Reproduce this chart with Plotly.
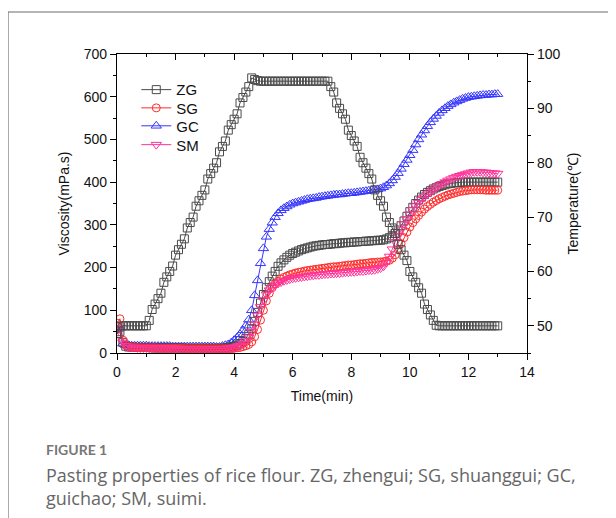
import plotly.graph_objects as go

# Time grid (min), sampled every 0.1 min
TIME = [round(i / 10, 1) for i in range(131)]

# Temperature profile (°C), right axis
TEMP = [48.6, 49.8, 50, 50, 50, 50, 50, 50, 50, 50,
        50, 51, 53, 54, 55, 56, 58, 59, 60, 61,
        63, 64, 65, 66, 68, 69, 70, 72, 73, 74,
        75, 77, 78, 79, 80, 82, 83, 84, 86, 87,
        88, 89, 91, 92, 93, 94, 95.6, 95.3, 95.1, 95,
        95, 95, 95, 95, 95, 95, 95, 95, 95, 95,
        95, 95, 95, 95, 95, 95, 95, 95, 95, 95,
        95, 95, 95, 94, 93, 91, 90, 89, 88, 86,
        85, 84, 83, 81, 80, 79, 78, 77, 75, 74,
        73, 72, 70, 69, 68, 67, 65, 64, 63, 62,
        60, 59, 58, 57, 56, 54, 53, 52, 51, 50.1,
        50, 50, 50, 50, 50, 50, 50, 50, 50, 50,
        50, 50, 50, 50, 50, 50, 50, 50, 50, 50,
        50]

# Viscosity (mPa.s), left axis
ZG = [45, 50, 25, 16, 14, 14, 13, 13, 13, 13,
      13, 13, 12, 12, 12, 12, 12, 12, 12, 12,
      12, 12, 12, 11, 11, 11, 11, 11, 11, 11,
      11, 11, 11, 11, 11, 11, 11, 12, 13, 14,
      16, 18, 22, 27, 34, 44, 57, 74, 95, 117,
      137, 153, 167, 180, 191, 203, 211, 218, 224, 229,
      233, 236, 239, 242, 244, 246, 248, 250, 251, 252,
      253, 254, 254, 255, 256, 256, 257, 258, 258, 259,
      259, 260, 260, 261, 261, 262, 262, 263, 263, 264,
      264, 265, 267, 270, 274, 280, 288, 298, 309, 320,
      331, 341, 350, 358, 365, 371, 376, 380, 384, 387,
      390, 392, 394, 396, 397, 398, 399, 399, 400, 400,
      400, 400, 400, 400, 400, 400, 400, 400, 400, 400,
      400]

SG = [70, 80, 30, 18, 14, 13, 13, 13, 12, 12,
      12, 12, 12, 12, 11, 11, 11, 11, 11, 11,
      11, 11, 11, 11, 10, 10, 10, 10, 10, 10,
      10, 10, 10, 10, 10, 10, 10, 10, 10, 10,
      11, 12, 13, 15, 17, 20, 26, 38, 55, 77,
      100, 122, 140, 153, 162, 168, 173, 177, 180, 183,
      185, 187, 189, 190, 192, 193, 194, 195, 196, 197,
      198, 199, 200, 201, 202, 202, 203, 204, 205, 206,
      206, 207, 208, 209, 209, 210, 211, 212, 212, 213,
      213, 214, 215, 217, 222, 230, 242, 256, 270, 283,
      295, 305, 314, 322, 330, 337, 343, 348, 353, 357,
      361, 364, 367, 370, 372, 374, 376, 378, 379, 380,
      381, 382, 382, 382, 382, 382, 381, 381, 381, 381,
      381]

GC = [55, 60, 22, 18, 18, 17, 17, 17, 17, 17,
      17, 16, 16, 16, 16, 16, 16, 16, 16, 15,
      15, 15, 15, 15, 15, 15, 15, 15, 15, 15,
      15, 15, 15, 15, 14, 14, 16, 18, 20, 24,
      30, 36, 44, 53, 64, 78, 100, 135, 170, 210,
      245, 272, 290, 305, 318, 327, 334, 339, 343, 347,
      350, 352, 354, 356, 358, 360, 361, 362, 363, 365,
      366, 367, 368, 369, 370, 371, 371, 372, 373, 374,
      374, 375, 376, 377, 378, 379, 380, 381, 382, 383,
      385, 388, 392, 397, 404, 412, 421, 431, 442, 452,
      463, 475, 488, 500, 511, 521, 531, 540, 548, 555,
      562, 568, 573, 578, 582, 586, 589, 592, 595, 597,
      599, 600, 601, 602, 603, 604, 604, 605, 605, 606,
      606]

SM = [50, 60, 25, 17, 13, 13, 13, 12, 12, 12,
      12, 12, 12, 11, 11, 11, 11, 11, 11, 11,
      11, 11, 10, 10, 10, 10, 10, 10, 10, 10,
      10, 10, 10, 10, 10, 10, 10, 10, 11, 12,
      13, 15, 18, 22, 28, 37, 50, 67, 88, 108,
      124, 137, 147, 154, 159, 163, 166, 169, 171, 173,
      175, 176, 177, 178, 179, 180, 181, 182, 183, 183,
      184, 185, 185, 186, 186, 187, 187, 188, 189, 189,
      190, 190, 191, 192, 192, 193, 194, 194, 195, 197,
      199, 203, 212, 226, 243, 260, 275, 289, 302, 314,
      325, 335, 344, 352, 359, 366, 372, 377, 382, 387,
      392, 396, 400, 404, 407, 410, 413, 415, 417, 419,
      421, 423, 424, 424, 424, 423, 423, 422, 421, 421,
      420]

SERIES_NAMES = ["ZG", "SG", "GC", "SM"]
X_TICKS = [0, 2, 4, 6, 8, 10, 12, 14]

FONT = "Liberation Sans, Arial, sans-serif"
C_ZG = "#4a4a4a"
C_SG = "#ff2a2a"
C_GC = "#3535ff"
C_SM = "#ff3399"

LEGEND_OF = {"ZG": "legend", "SG": "legend2", "GC": "legend3", "SM": "legend4"}

fig = go.Figure()

def add(y, name, color, symbol, size, yaxis="y", showlegend=True):
    fig.add_trace(go.Scatter(
        x=TIME, y=y, name=name, mode="lines+markers", yaxis=yaxis,
        line=dict(color=color, width=1),
        marker=dict(symbol=symbol, size=size, color=color,
                    line=dict(color=color, width=1)),
        showlegend=showlegend,
        legend=LEGEND_OF.get(name, "legend"),
    ))

add(GC, "GC", C_GC, "triangle-up-open", 9)
add(ZG, "ZG", C_ZG, "square-open", 8)
add(SG, "SG", C_SG, "circle-open", 8)
add(SM, "SM", C_SM, "triangle-down-open", 9)
add(TEMP, "Temperature", C_ZG, "square-open", 8, yaxis="y2", showlegend=False)

# dummy trace to activate top mirror axis
fig.add_trace(go.Scatter(x=[None], y=[None], xaxis="x2", showlegend=False,
                         hoverinfo="skip"))

axis_common = dict(showgrid=False, zeroline=False, showline=True,
                   linecolor="black", linewidth=1.2,
                   tickcolor="black", ticklen=6, tickwidth=1,
                   tickfont=dict(family=FONT, size=14, color="#111"))

def legend_at(ypos):
    return dict(x=0.047, y=ypos, xanchor="left", yanchor="middle",
                bgcolor="rgba(0,0,0,0)", borderwidth=0,
                font=dict(family=FONT, size=15, color="#111"))

fig.update_layout(
    width=616, height=518,
    margin=dict(l=109, r=97, t=46, b=173),
    paper_bgcolor="white", plot_bgcolor="white",
    font=dict(family=FONT, size=14, color="#111"),
    xaxis=dict(range=[0, 14], tickvals=X_TICKS, ticks="outside",
               minor=dict(dtick=1, ticks="outside", ticklen=3, tickcolor="black"),
               title=dict(text="Time(min)", font=dict(family=FONT, size=14), standoff=12),
               **axis_common),
    xaxis2=dict(range=[0, 14], overlaying="x", side="top", tickvals=X_TICKS,
                ticks="inside", showticklabels=False,
                minor=dict(dtick=1, ticks="inside", ticklen=3, tickcolor="black"),
                **axis_common),
    yaxis=dict(range=[0, 700], dtick=100, ticks="outside",
               minor=dict(dtick=50, ticks="outside", ticklen=3, tickcolor="black"),
               title=dict(text="Viscosity(mPa.s)", font=dict(family=FONT, size=14), standoff=10),
               **axis_common),
    yaxis2=dict(range=[45, 100], dtick=10, tick0=50, overlaying="y", side="right",
                ticks="outside",
                minor=dict(dtick=5, tick0=45, ticks="outside", ticklen=3, tickcolor="black"),
                title=dict(text="Temperature(℃)", font=dict(family=FONT, size=14), standoff=8),
                **axis_common),
    legend=legend_at(0.880),
    legend2=legend_at(0.819),
    legend3=legend_at(0.759),
    legend4=legend_at(0.696),
    showlegend=True,
)

# outer frame of the figure panel
fig.add_shape(type="line", xref="paper", yref="paper",
              x0=-0.2659, x1=-0.2659, y0=-0.7, y1=1.1405,
              line=dict(color="#6d6d6d", width=1.2))
fig.add_shape(type="line", xref="paper", yref="paper",
              x0=-0.2659, x1=1.3, y0=1.1405, y1=1.1405,
              line=dict(color="#6d6d6d", width=1.2))

fig.add_annotation(text="<b>FIGURE 1</b>", xref="paper", yref="paper",
                   x=-0.178, y=-0.322, xanchor="left", yanchor="middle",
                   showarrow=False,
                   font=dict(family="Lato, Open Sans, sans-serif", size=14, color="#777"))
fig.add_annotation(text="Pasting properties of rice flour. ZG, zhengui; SG, shuanggui; GC,"
                        "<br>guichao; SM, suimi.",
                   xref="paper", yref="paper", x=-0.178, y=-0.447,
                   xanchor="left", yanchor="middle", align="left", showarrow=False,
                   font=dict(family="Open Sans, Lato, sans-serif", size=18, color="#666"))

fig.write_html("out.html")
